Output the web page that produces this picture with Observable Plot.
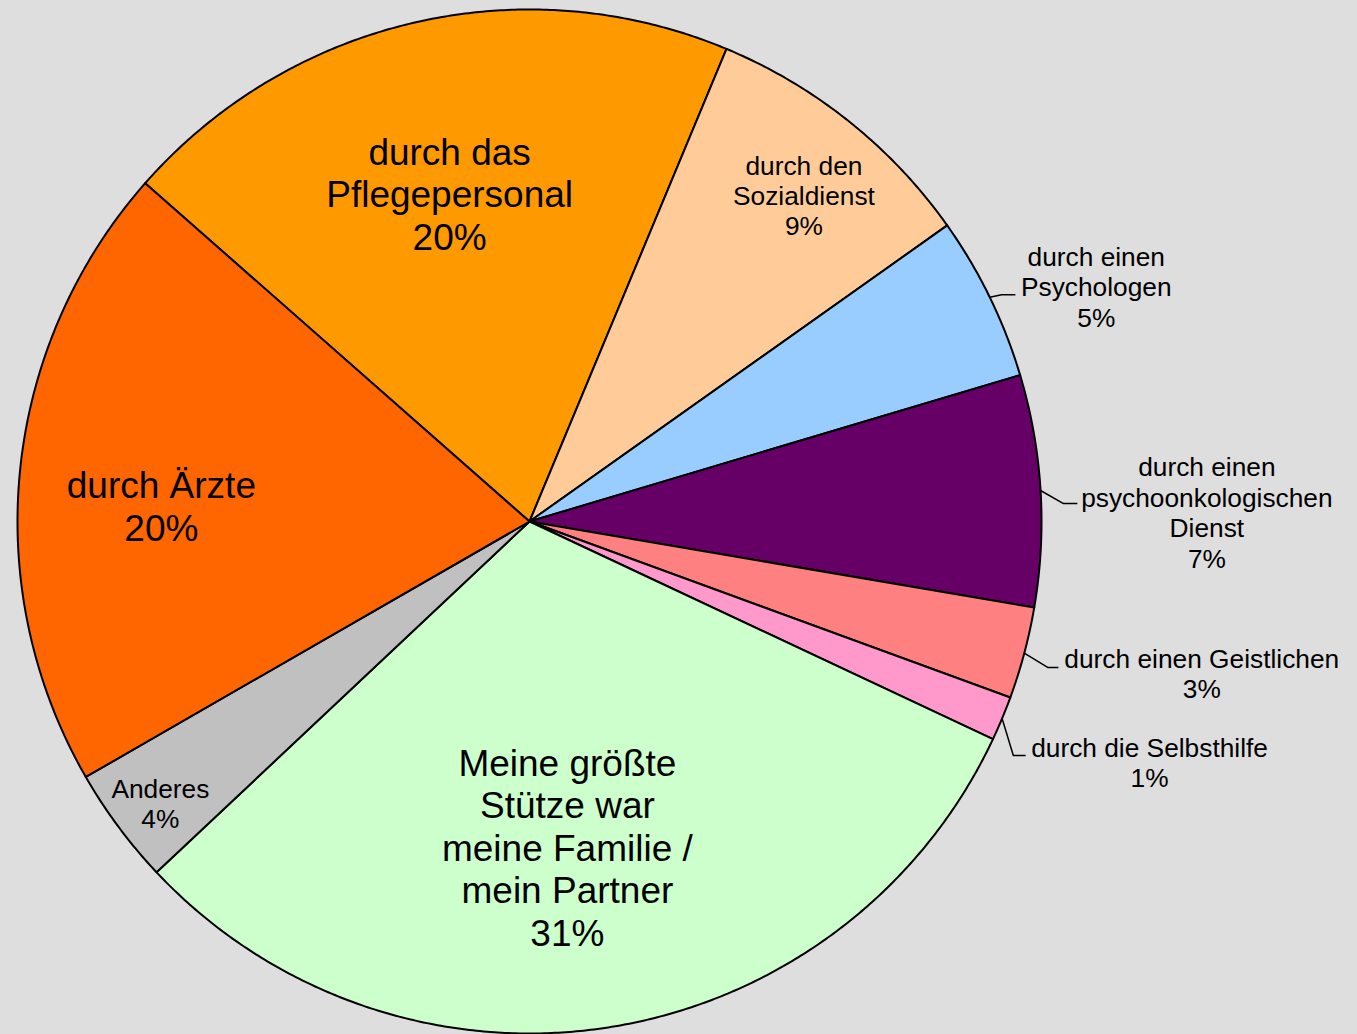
<!DOCTYPE html>
<html>
<head>
<meta charset="utf-8">
<script src="https://cdn.jsdelivr.net/npm/d3@7"></script>
<script src="https://cdn.jsdelivr.net/npm/@observablehq/plot@0.6"></script>
<style>
  html, body { margin: 0; padding: 0; background: #dedede; }
  #chart svg { display: block; }
</style>
</head>
<body>
<div id="chart"></div>
<script>
// ---- Data ----
const categories = [
  "durch das\nPflegepersonal",
  "durch den\nSozialdienst",
  "durch einen\nPsychologen",
  "durch einen\npsychoonkologischen\nDienst",
  "durch einen Geistlichen",
  "durch die Selbsthilfe",
  "Meine größte\nStütze war\nmeine Familie /\nmein Partner",
  "Anderes",
  "durch Ärzte"
];
const values = [19.8, 8.9, 5.2, 7.3, 2.9, 1.4, 31.0, 3.7, 19.8];
const colors = ["#ff9900", "#ffcc99", "#99ccff", "#660066", "#ff8080", "#ff99cc", "#ccffcc", "#c0c0c0", "#ff6600"];

// ---- Layout (radius units, y pointing down) ----
const startAngle = -48.65; // degrees clockwise from 12 o'clock
const labelOffsets = [
  [-0.156, -0.640], [0.536, -0.637], [1.107, -0.459], [1.323, -0.018],
  [1.313, 0.296], [1.211, 0.470], [0.074, 0.636], [-0.721, 0.550], [-0.719, -0.030]
];
const bigLabel = [true, false, false, false, false, false, true, false, true];
const leaderBends = {
  2: [[0.922, -0.443], [0.949, -0.443]],
  3: [[1.043, -0.035], [1.070, -0.035]],
  4: [[1.012, 0.285], [1.033, 0.285]],
  5: [[0.945, 0.457], [0.969, 0.457]]
};

// ---- Geometry derived from data ----
const total = d3.sum(values);
const rad = (deg) => deg * Math.PI / 180;
let acc = startAngle;
const slices = values.map((v, i) => {
  const a0 = acc, a1 = acc + v / total * 360;
  acc = a1;
  return {i, a0, a1, mid: (a0 + a1) / 2};
});

const slicePts = [];
for (const s of slices) {
  slicePts.push({i: s.i, x: 0, y: 0, color: colors[s.i]});
  const n = Math.max(2, Math.ceil((s.a1 - s.a0) / 0.4));
  for (let k = 0; k <= n; k++) {
    const a = rad(s.a0 + (s.a1 - s.a0) * k / n);
    slicePts.push({i: s.i, x: Math.sin(a), y: Math.cos(a), color: colors[s.i]});
  }
}

const leaderPts = [];
for (const key of Object.keys(leaderBends)) {
  const i = +key;
  const m = rad(slices[i].mid);
  leaderPts.push({i, x: Math.sin(m), y: Math.cos(m)});
  for (const [dx, dy] of leaderBends[i]) leaderPts.push({i, x: dx, y: -dy});
}

const labels = categories.map((c, i) => ({
  i,
  text: c + "\n" + Math.round(values[i] / total * 100) + "%",
  x: labelOffsets[i][0],
  y: -labelOffsets[i][1],
  big: bigLabel[i]
}));

const chart = Plot.plot({
  width: 1357,
  height: 1034,
  marginLeft: 17,
  marginRight: 316,
  marginTop: 9,
  marginBottom: 1,
  x: {domain: [-1, 1], axis: null},
  y: {domain: [-1, 1], axis: null},
  color: {type: "identity"},
  style: {background: "#dedede", fontFamily: "'Liberation Sans', Arial, sans-serif", overflow: "visible"},
  marks: [
    Plot.line(slicePts, {x: "x", y: "y", z: "i", fill: "color", stroke: "black", strokeWidth: 2, curve: "linear-closed", strokeLinejoin: "round"}),
    Plot.line(leaderPts, {x: "x", y: "y", z: "i", stroke: "black", strokeWidth: 1.5, strokeLinejoin: "miter", strokeLinecap: "butt"}),
    Plot.text(labels.filter(d => d.big), {x: "x", y: "y", text: "text", fontSize: 37, lineHeight: 1.15, fill: "black"}),
    Plot.text(labels.filter(d => !d.big), {x: "x", y: "y", text: "text", fontSize: 26.3, lineHeight: 1.155, fill: "black"})
  ]
});
document.getElementById("chart").appendChild(chart);
</script>
</body>
</html>
